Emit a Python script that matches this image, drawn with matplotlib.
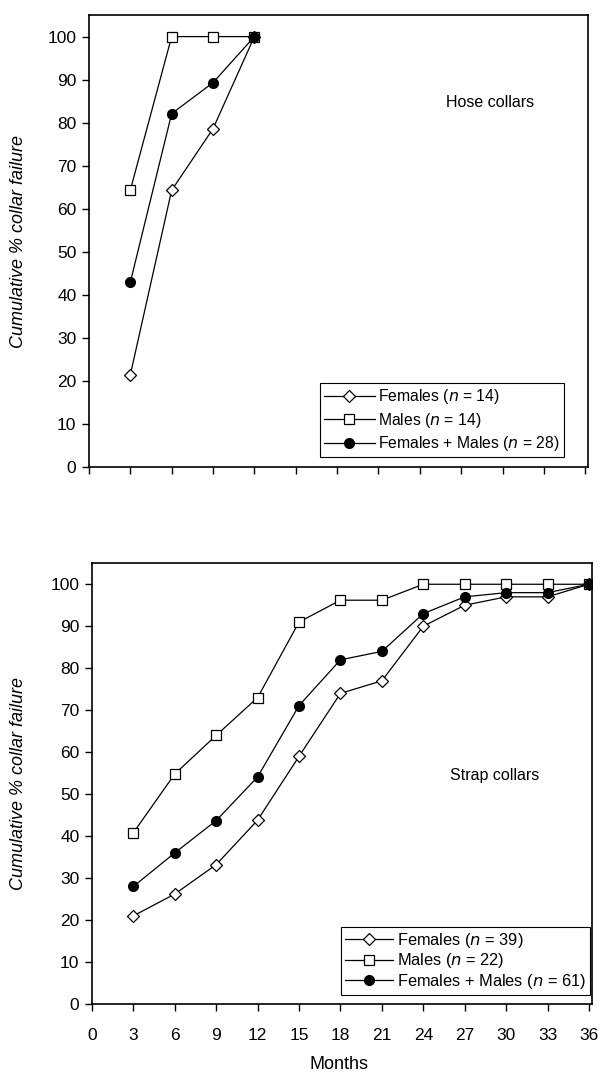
import matplotlib
matplotlib.use("Agg")
import matplotlib.pyplot as plt

plt.rcParams['font.family'] = ['Liberation Sans', 'DejaVu Sans']

# Hose collars
hose_months = [3, 6, 9, 12]
hose_females = [21.4, 64.3, 78.6, 100]
hose_males = [64.3, 100, 100, 100]
hose_all = [42.9, 82.1, 89.3, 100]

# Strap collars
strap_months = [3, 6, 9, 12, 15, 18, 21, 24, 27, 30, 33, 36]
strap_females = [21, 26.2, 33.2, 43.8, 59, 74, 77, 90, 95, 97, 97, 100]
strap_males = [40.8, 54.8, 64, 73, 91, 96.2, 96.2, 100, 100, 100, 100, 100]
strap_all = [28, 36, 43.7, 54.1, 71.1, 82, 84, 93, 97, 98, 98, 100]

x_ticks = list(range(0, 37, 3))
y_ticks = list(range(0, 101, 10))


def draw(ax, months, fem, mal, both, labels, title, title_xy, legend_anchor,
         show_xlabels, ylab_x, leg_font, leg_space, handle_len):
    ax.plot(months, fem, color='black', lw=0.9, marker='D', ms=6.2,
            mfc='white', mec='black', mew=0.9, label=labels[0])
    ax.plot(months, mal, color='black', lw=0.9, marker='s', ms=7,
            mfc='white', mec='black', mew=0.9, label=labels[1])
    ax.plot(months, both, color='black', lw=0.9, marker='o', ms=7,
            mfc='black', mec='black', label=labels[2])
    ax.set_xlim(0, 36.2)
    ax.set_ylim(0, 105)
    ax.set_xticks(x_ticks)
    ax.set_yticks(y_ticks)
    if not show_xlabels:
        ax.set_xticklabels([])
    ax.tick_params(direction='out', length=5, width=1, labelsize=12.5)
    ax.tick_params(axis='x', pad=12)
    ax.tick_params(axis='y', pad=4)
    for s in ax.spines.values():
        s.set_linewidth(1.2)
    ax.set_ylabel('Cumulative % collar failure', style='italic', fontsize=13)
    ax.yaxis.set_label_coords(ylab_x, 0.5)
    ax.text(title_xy[0], title_xy[1], title, fontsize=11.5, va='center')
    leg = ax.legend(loc='lower right', bbox_to_anchor=legend_anchor, fontsize=leg_font,
                    frameon=True, fancybox=False, edgecolor='black', framealpha=1,
                    handlelength=handle_len, handletextpad=0.25, borderpad=0.25,
                    labelspacing=leg_space, borderaxespad=0)
    leg.get_frame().set_linewidth(0.8)


fig = plt.figure(figsize=(6.05, 10.77), dpi=100)
ax1 = fig.add_axes([0.147, 0.5664, 0.825, 0.4196])
ax2 = fig.add_axes([0.152, 0.0678, 0.826, 0.4092])

draw(ax1, hose_months, hose_females, hose_males, hose_all,
     ['Females ($n$ = 14)', 'Males ($n$ = 14)', 'Females + Males ($n$ = 28)'],
     'Hose collars', (25.9, 84.7), (0.952, 0.022), False, -0.125, 11.3, 0.29, 3.2)
draw(ax2, strap_months, strap_females, strap_males, strap_all,
     ['Females ($n$ = 39)', 'Males ($n$ = 22)', 'Females + Males ($n$ = 61)'],
     'Strap collars', (25.9, 54.5), (0.996, 0.02), True, -0.13, 11.8, 0.1, 2.9)
ax2.set_xlabel('Months', fontsize=13)
ax2.xaxis.set_label_coords(0.494, -0.117)

fig.savefig('out.png', dpi=100)
